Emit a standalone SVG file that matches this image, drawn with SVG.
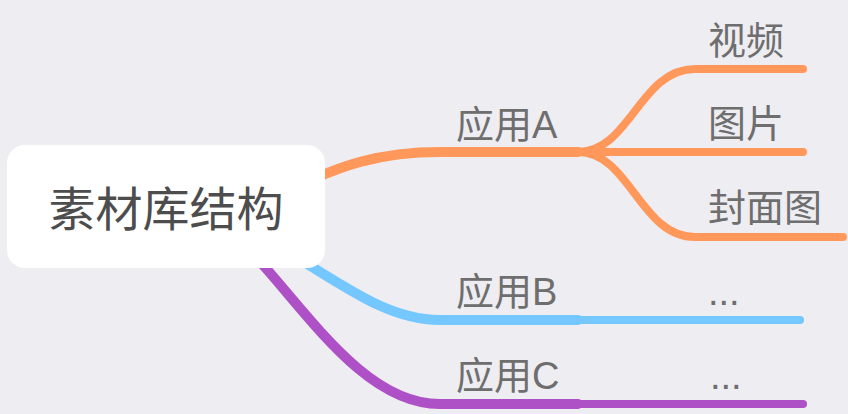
<svg xmlns="http://www.w3.org/2000/svg" width="848" height="414" viewBox="0 0 848 414">
<style>
.bg{fill:#EEEDF2}
.br{fill:none;stroke-linecap:round;stroke-linejoin:round}
.main{stroke-width:10}
.sub{stroke-width:8}
.o{stroke:#FF985A}
.b{stroke:#74C8FF}
.p{stroke:#AE50C6}
.lbl{font-family:"Liberation Sans","Noto Sans CJK SC",sans-serif;font-size:38px;fill:#6E6E6E}
.root{font-family:"Liberation Sans","Noto Sans CJK SC",sans-serif;font-size:47px;fill:#4D4D4D}
</style>
<rect class="bg" x="0" y="0" width="848" height="414"/>
<g id="connectors">
<path class="br main o" d="M 290,190 C 340,165 380,152 440,152 L 578,152"/>
<path class="br sub o" d="M 578,152 C 630,152 640,69 695,69 L 803,69"/>
<path class="br sub o" d="M 578,152 L 803,152"/>
<path class="br sub o" d="M 578,152 C 630,152 640,237 695,237 L 843,237"/>
<path class="br main b" d="M 285,250 C 350,290 390,320 440,320 L 578,320"/>
<path class="br sub b" d="M 578,320 L 800,320"/>
<path class="br main p" d="M 240,240 C 300,300 360,404 440,404 L 578,404"/>
<path class="br sub p" d="M 578,404 L 803,404"/>
</g>
<g id="root">
<rect x="7" y="145" width="318" height="123" rx="18" ry="18" fill="#FFFFFF"/>
<text class="root" x="166" y="226" text-anchor="middle">素材库结构</text>
</g>
<g id="appA"><text class="lbl" x="456" y="138">应用A</text></g>
<g id="video"><text class="lbl" x="708" y="54">视频</text></g>
<g id="image"><text class="lbl" x="708" y="137">图片</text></g>
<g id="cover"><text class="lbl" x="708" y="221">封面图</text></g>
<g id="appB"><text class="lbl" x="456" y="305">应用B</text></g>
<g id="moreB"><text class="lbl" x="708" y="305">...</text></g>
<g id="appC"><text class="lbl" x="456" y="389">应用C</text></g>
<g id="moreC"><text class="lbl" x="710" y="389">...</text></g>
</svg>
